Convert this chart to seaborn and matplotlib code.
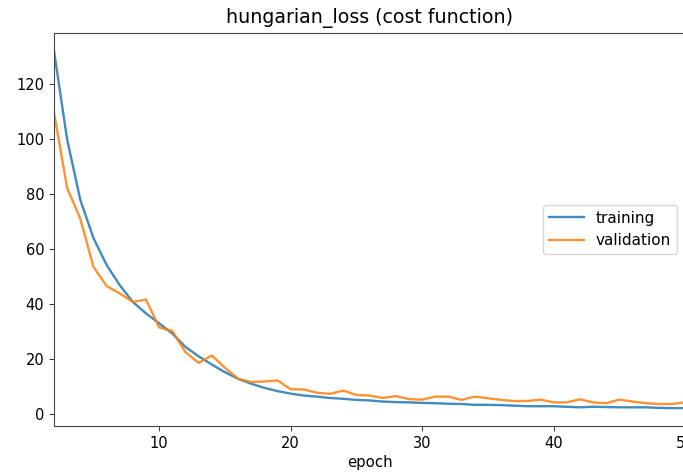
import matplotlib
matplotlib.use("Agg")
import matplotlib.pyplot as plt
import seaborn as sns
import pandas as pd

epochs = list(range(2, 51))
training = [132.2, 99.9, 77.9, 64.0, 54.2, 46.8, 40.7, 36.5, 32.9, 29.2,
            24.3, 20.9, 17.9, 15.1, 12.7, 10.9, 9.4, 8.2, 7.3, 6.6,
            6.2, 5.7, 5.4, 5.0, 4.8, 4.4, 4.2, 4.1, 3.9, 3.8,
            3.6, 3.5, 3.2, 3.2, 3.1, 2.9, 2.7, 2.7, 2.7, 2.5,
            2.3, 2.5, 2.4, 2.3, 2.3, 2.3, 2.1, 2.0, 2.0]
validation = [109.7, 82.2, 71.0, 53.5, 46.5, 43.8, 40.7, 41.6, 31.4, 30.1,
              22.4, 18.5, 21.2, 16.7, 12.7, 11.5, 11.7, 12.1, 8.9, 8.8,
              7.6, 7.2, 8.4, 6.8, 6.6, 5.7, 6.4, 5.3, 5.1, 6.2,
              6.2, 5.0, 6.2, 5.6, 5.0, 4.6, 4.6, 5.1, 4.1, 4.1,
              5.2, 4.1, 3.8, 5.1, 4.4, 3.8, 3.5, 3.5, 4.1]
series_names = ["training", "validation"]
title = "hungarian_loss (cost function)"
xlabel = "epoch"

df = pd.DataFrame({
    "epoch": epochs * 2,
    "loss": training + validation,
    "series": [series_names[0]] * len(epochs) + [series_names[1]] * len(epochs),
})

W, H, DPI = 683, 474, 100
fig = plt.figure(figsize=(W / DPI, H / DPI), dpi=DPI)
ax = fig.add_axes([54 / W, 1 - 426 / H, (685 - 54) / W, (426 - 33) / H])

sns.lineplot(data=df, x="epoch", y="loss", hue="series",
             palette=["#1f77b4", "#ff7f0e"], ax=ax, linewidth=1.7, alpha=0.85)

ax.set_xlim(2, 50)
ax.set_xticks([10, 20, 30, 40, 50])
ax.set_yticks([0, 20, 40, 60, 80, 100, 120])
ax.set_title(title, fontsize=13.7, pad=7)
ax.set_xlabel(xlabel, fontsize=10.7, labelpad=3)
ax.set_ylabel("")
ax.tick_params(labelsize=10.5, color="#444444")
for s in ax.spines.values():
    s.set_color("#444444")

handles, labels = ax.get_legend_handles_labels()
ax.legend(handles, labels, loc="center right", fontsize=11, handlelength=2.3)

fig.savefig("out.png", dpi=DPI)
